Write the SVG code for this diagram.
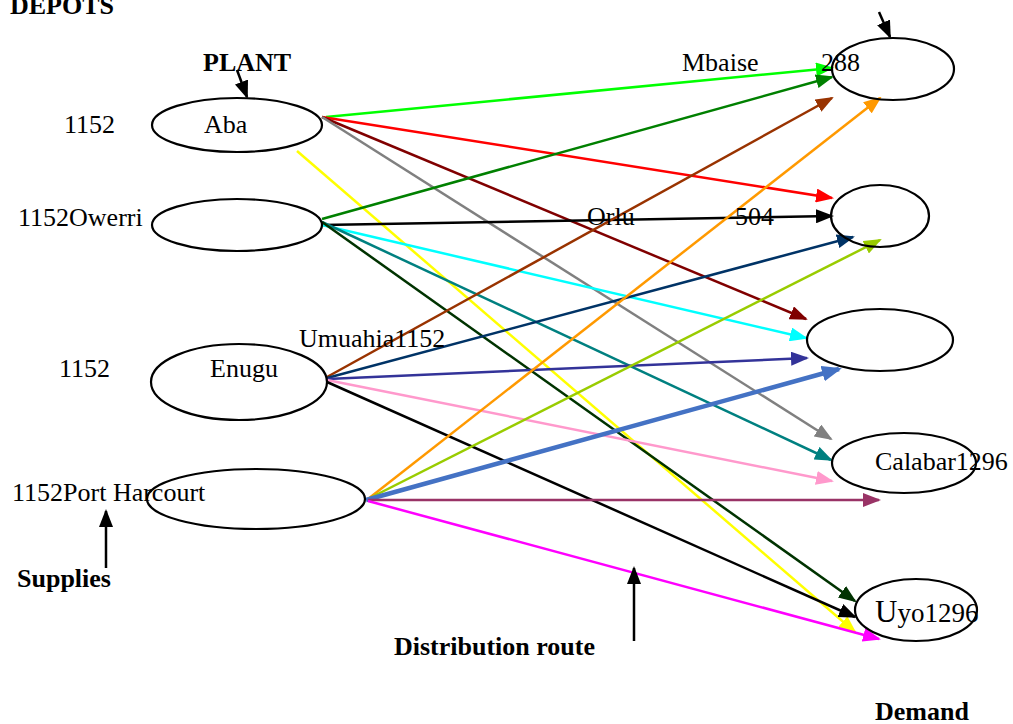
<svg xmlns="http://www.w3.org/2000/svg" width="1013" height="724" viewBox="0 0 1013 724">
<style>
text{font-family:"Liberation Serif","Times New Roman",serif;font-size:26px;fill:#000}
.b{font-weight:bold}
ellipse{fill:none;stroke:#000;stroke-width:2.2}
.c line{stroke-width:2.5;fill:none}
.c line.thick{stroke-width:4.5}
</style>
<defs>
<marker id="m-lime" markerUnits="userSpaceOnUse" markerWidth="18" markerHeight="14" refX="16" refY="7" orient="auto"><path d="M0,0 L18,7 L0,14 z" fill="#00ff00"/></marker>
<marker id="m-red" markerUnits="userSpaceOnUse" markerWidth="18" markerHeight="14" refX="16" refY="7" orient="auto"><path d="M0,0 L18,7 L0,14 z" fill="#ff0000"/></marker>
<marker id="m-maroon" markerUnits="userSpaceOnUse" markerWidth="18" markerHeight="14" refX="16" refY="7" orient="auto"><path d="M0,0 L18,7 L0,14 z" fill="#800000"/></marker>
<marker id="m-gray" markerUnits="userSpaceOnUse" markerWidth="18" markerHeight="14" refX="16" refY="7" orient="auto"><path d="M0,0 L18,7 L0,14 z" fill="#808080"/></marker>
<marker id="m-yellow" markerUnits="userSpaceOnUse" markerWidth="18" markerHeight="14" refX="16" refY="7" orient="auto"><path d="M0,0 L18,7 L0,14 z" fill="#ffff00"/></marker>
<marker id="m-green" markerUnits="userSpaceOnUse" markerWidth="18" markerHeight="14" refX="16" refY="7" orient="auto"><path d="M0,0 L18,7 L0,14 z" fill="#008000"/></marker>
<marker id="m-black" markerUnits="userSpaceOnUse" markerWidth="18" markerHeight="14" refX="16" refY="7" orient="auto"><path d="M0,0 L18,7 L0,14 z" fill="#000000"/></marker>
<marker id="m-cyan" markerUnits="userSpaceOnUse" markerWidth="18" markerHeight="14" refX="16" refY="7" orient="auto"><path d="M0,0 L18,7 L0,14 z" fill="#00ffff"/></marker>
<marker id="m-teal" markerUnits="userSpaceOnUse" markerWidth="18" markerHeight="14" refX="16" refY="7" orient="auto"><path d="M0,0 L18,7 L0,14 z" fill="#008080"/></marker>
<marker id="m-dkgreen" markerUnits="userSpaceOnUse" markerWidth="18" markerHeight="14" refX="16" refY="7" orient="auto"><path d="M0,0 L18,7 L0,14 z" fill="#003300"/></marker>
<marker id="m-brown" markerUnits="userSpaceOnUse" markerWidth="18" markerHeight="14" refX="16" refY="7" orient="auto"><path d="M0,0 L18,7 L0,14 z" fill="#993300"/></marker>
<marker id="m-navy" markerUnits="userSpaceOnUse" markerWidth="18" markerHeight="14" refX="16" refY="7" orient="auto"><path d="M0,0 L18,7 L0,14 z" fill="#003366"/></marker>
<marker id="m-indigo" markerUnits="userSpaceOnUse" markerWidth="18" markerHeight="14" refX="16" refY="7" orient="auto"><path d="M0,0 L18,7 L0,14 z" fill="#333399"/></marker>
<marker id="m-pink" markerUnits="userSpaceOnUse" markerWidth="18" markerHeight="14" refX="16" refY="7" orient="auto"><path d="M0,0 L18,7 L0,14 z" fill="#ff99cc"/></marker>
<marker id="m-orange" markerUnits="userSpaceOnUse" markerWidth="18" markerHeight="14" refX="16" refY="7" orient="auto"><path d="M0,0 L18,7 L0,14 z" fill="#ff9900"/></marker>
<marker id="m-ygreen" markerUnits="userSpaceOnUse" markerWidth="18" markerHeight="14" refX="16" refY="7" orient="auto"><path d="M0,0 L18,7 L0,14 z" fill="#99cc00"/></marker>
<marker id="m-blue" markerUnits="userSpaceOnUse" markerWidth="20" markerHeight="16" refX="17" refY="8" orient="auto"><path d="M0,0 L20,8 L0,16 z" fill="#4472c4"/></marker>
<marker id="m-plum" markerUnits="userSpaceOnUse" markerWidth="18" markerHeight="14" refX="16" refY="7" orient="auto"><path d="M0,0 L18,7 L0,14 z" fill="#993366"/></marker>
<marker id="m-magenta" markerUnits="userSpaceOnUse" markerWidth="18" markerHeight="14" refX="16" refY="7" orient="auto"><path d="M0,0 L18,7 L0,14 z" fill="#ff00ff"/></marker>
</defs>
<rect width="1013" height="724" fill="#fff"/>

<g id="connectors" class="c">
<!-- from Aba -->
<line x1="326" y1="117" x2="832" y2="68" stroke="#00ff00" marker-end="url(#m-lime)"/>
<line x1="322" y1="117" x2="832" y2="198" stroke="#ff0000" marker-end="url(#m-red)"/>
<line x1="322" y1="117" x2="806" y2="319" stroke="#800000" marker-end="url(#m-maroon)"/>
<line x1="322" y1="117" x2="831" y2="439" stroke="#808080" marker-end="url(#m-gray)"/>
<line x1="297" y1="151" x2="855" y2="632" stroke="#ffff00" marker-end="url(#m-yellow)"/>
<!-- from Owerri -->
<line x1="322" y1="219" x2="832" y2="77" stroke="#008000" marker-end="url(#m-green)"/>
<line x1="322" y1="225" x2="832" y2="216" stroke="#000000" marker-end="url(#m-black)"/>
<line x1="322" y1="225" x2="806" y2="338" stroke="#00ffff" marker-end="url(#m-cyan)"/>
<line x1="322" y1="222" x2="831" y2="460" stroke="#008080" marker-end="url(#m-teal)"/>
<line x1="322" y1="222" x2="855" y2="601" stroke="#003300" marker-end="url(#m-dkgreen)"/>
<!-- from Enugu -->
<line x1="327" y1="377" x2="832" y2="98" stroke="#993300" marker-end="url(#m-brown)"/>
<line x1="327" y1="378" x2="853" y2="237" stroke="#003366" marker-end="url(#m-navy)"/>
<line x1="327" y1="379" x2="807" y2="358" stroke="#333399" marker-end="url(#m-indigo)"/>
<line x1="327" y1="380" x2="832" y2="481" stroke="#ff99cc" marker-end="url(#m-pink)"/>
<line x1="327" y1="382" x2="855" y2="617" stroke="#000000" marker-end="url(#m-black)"/>
<!-- from Port Harcourt -->
<line x1="368" y1="499" x2="880" y2="98" stroke="#ff9900" marker-end="url(#m-orange)"/>
<line x1="368" y1="499" x2="880" y2="240" stroke="#99cc00" marker-end="url(#m-ygreen)"/>
<line class="thick" x1="366" y1="500" x2="839" y2="369" stroke="#4472c4" marker-end="url(#m-blue)"/>
<line x1="368" y1="500" x2="879" y2="500" stroke="#993366" marker-end="url(#m-plum)"/>
<line x1="368" y1="501" x2="879" y2="639" stroke="#ff00ff" marker-end="url(#m-magenta)"/>
<!-- annotation arrows -->
<line x1="237" y1="70" x2="247" y2="97" stroke="#000000" marker-end="url(#m-black)"/>
<line x1="879" y1="12" x2="890" y2="37" stroke="#000000" marker-end="url(#m-black)"/>
<line x1="106" y1="568" x2="106" y2="511" stroke="#000000" marker-end="url(#m-black)"/>
<line x1="634" y1="641" x2="634" y2="568" stroke="#000000" marker-end="url(#m-black)"/>
</g>

<g id="labels">
<text class="b" x="10" y="14">DEPOTS</text>
<text class="b" x="203" y="71">PLANT</text>
<text class="b" x="17" y="587">Supplies</text>
<text class="b" x="394" y="655">Distribution route</text>
<text class="b" x="875" y="720">Demand</text>
</g>

<g id="node-aba">
<ellipse cx="237" cy="125" rx="85" ry="27"/>
<text x="64" y="133">1152</text>
<text x="204" y="133">Aba</text>
</g>
<g id="node-owerri">
<ellipse cx="237" cy="225" rx="85" ry="26"/>
<text x="18" y="226">1152Owerri</text>
</g>
<g id="node-enugu">
<ellipse cx="239" cy="382" rx="88" ry="38"/>
<text x="59" y="377">1152</text>
<text x="210" y="377">Enugu</text>
<text x="299" y="347">Umuahia1152</text>
</g>
<g id="node-portharcourt">
<ellipse cx="256" cy="499" rx="109" ry="30"/>
<text x="12" y="501">1152Port Harcourt</text>
</g>
<g id="node-mbaise">
<ellipse cx="893" cy="69" rx="61" ry="31"/>
<text x="682" y="71">Mbaise</text>
<text x="821" y="71">288</text>
</g>
<g id="node-orlu">
<ellipse cx="880" cy="216" rx="49" ry="31"/>
<text x="587" y="225">Orlu</text>
<text x="735" y="225">504</text>
</g>
<g id="node-third">
<ellipse cx="880" cy="340" rx="73" ry="31"/>
</g>
<g id="node-calabar">
<ellipse cx="904" cy="463" rx="72" ry="30"/>
<text x="875" y="470">Calabar1296</text>
</g>
<g id="node-uyo">
<ellipse cx="916" cy="610" rx="61" ry="31"/>
<text x="875" y="622"><tspan font-size="31">U</tspan><tspan font-size="27">yo1296</tspan></text>
</g>
</svg>
